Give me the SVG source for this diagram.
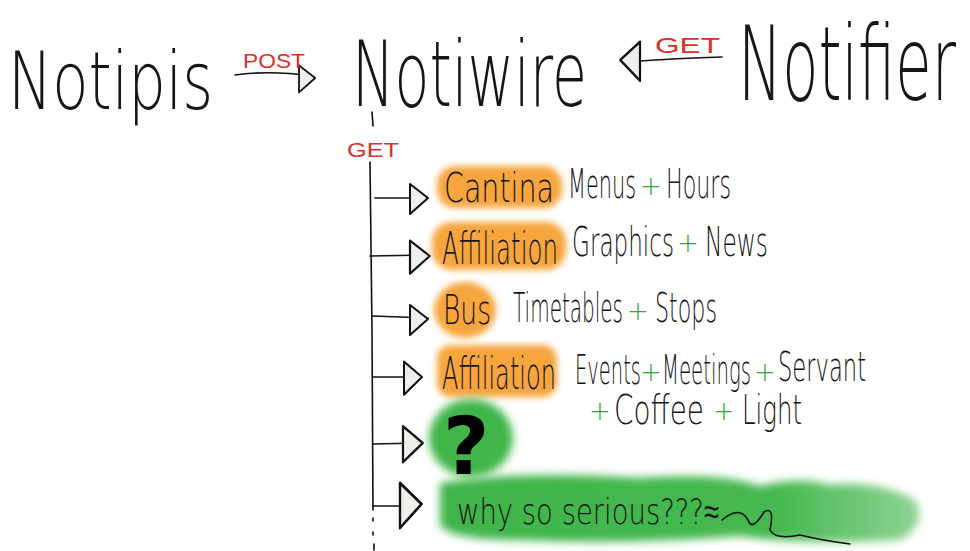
<svg xmlns="http://www.w3.org/2000/svg" width="970" height="551" viewBox="0 0 970 551">
<style>
.hw{font-family:"DejaVu Sans","Liberation Sans",sans-serif;font-weight:200;fill:#161616}
.big{font-size:80px}
.mid{font-size:40px}
.red{font-family:"Liberation Sans Narrow","Liberation Sans",sans-serif;fill:#d9302a;font-size:20px}
.plus{font-family:"DejaVu Sans",sans-serif;font-weight:200;fill:#3aa63a;font-size:26px;text-anchor:middle}
.ln{stroke:#111;stroke-width:1.6;fill:none;stroke-linecap:round}
.head{fill:#efeeea;stroke:#111;stroke-width:2;stroke-linejoin:round}
.or{fill:#f7a53c;filter:url(#soft)}
.gr{fill:#3fb54a;filter:url(#soft2)}
</style>
<defs>
<filter id="soft" x="-20%" y="-30%" width="140%" height="160%"><feGaussianBlur stdDeviation="3"/></filter>
<filter id="soft2" x="-20%" y="-30%" width="140%" height="160%"><feGaussianBlur stdDeviation="4"/></filter>
<linearGradient id="fade" x1="0" y1="0" x2="1" y2="0">
<stop offset="0" stop-color="#3fb54a"/><stop offset="0.7" stop-color="#45b84f"/><stop offset="1" stop-color="#8fd392"/>
</linearGradient>
<path id="ah" d="M0,-14 L18,0 L0,16 Z"/>
</defs>
<rect width="970" height="551" fill="#ffffff"/>

<g id="notipis">
<text class="hw big" x="8" y="109" textLength="205" lengthAdjust="spacingAndGlyphs">Notipis</text>
</g>
<g id="notiwire">
<text class="hw big" x="352" y="106" textLength="235" lengthAdjust="spacingAndGlyphs" style="font-size:90px">Notiwire</text>
</g>
<g id="notifier">
<text class="hw big" x="738" y="100" textLength="218" lengthAdjust="spacingAndGlyphs" style="font-size:104px">Notifier</text>
</g>

<g id="connectors">
<path class="ln" d="M235,75 Q270,70 312,76"/>
<use href="#ah" class="head" transform="translate(299,78) scale(0.9)"/>
<text class="red" x="243" y="68" textLength="62" lengthAdjust="spacingAndGlyphs">POST</text>

<path class="ln" d="M722,57 Q680,58 625,62"/>
<use href="#ah" class="head" transform="translate(640,60) scale(-1.1,1.3)"/>
<text class="red" x="655" y="53" textLength="65" lengthAdjust="spacingAndGlyphs" style="font-size:22px">GET</text>

<path class="ln" d="M372,112 L373,126"/>
<text class="red" x="347" y="157" textLength="52" lengthAdjust="spacingAndGlyphs" style="font-size:21px">GET</text>

<path class="ln" d="M370,162 L372,330 L373,510"/>
<path class="ln" d="M373,518 L373,521 M373,532 L373,535 M374,544 L374,550" stroke-width="2.2"/>

<path class="ln" d="M375,198 L425,198"/>
<use href="#ah" class="head" transform="translate(410,198) scale(1,1)"/>
<path class="ln" d="M370,256 L428,255"/>
<use href="#ah" class="head" transform="translate(410,256) scale(1.1,1.1)"/>
<path class="ln" d="M372,316 L428,318"/>
<use href="#ah" class="head" transform="translate(410,319) scale(1,1)"/>
<path class="ln" d="M373,377 L420,377"/>
<use href="#ah" class="head" transform="translate(404,377) scale(1,1.1)"/>
<path class="ln" d="M373,444 L420,443"/>
<use href="#ah" class="head" transform="translate(403,443) scale(1.1,1.2)"/>
<path class="ln" d="M373,506 L420,506"/>
<use href="#ah" class="head" transform="translate(400,504) scale(1.2,1.5)"/>
</g>

<g id="cantina">
<rect class="or" x="437" y="166" width="125" height="42" rx="18"/>
<text class="hw mid" x="444" y="202" textLength="110" lengthAdjust="spacingAndGlyphs">Cantina</text>
<text class="hw mid" x="568" y="198" textLength="68" lengthAdjust="spacingAndGlyphs">Menus</text>
<text class="plus" x="651" y="195">+</text>
<text class="hw mid" x="666" y="198" textLength="65" lengthAdjust="spacingAndGlyphs">Hours</text>
</g>
<g id="affiliation1">
<rect class="or" x="432" y="222" width="134" height="48" rx="20"/>
<text class="hw mid" x="442" y="264" textLength="116" lengthAdjust="spacingAndGlyphs" style="font-size:44px">Affiliation</text>
<text class="hw mid" x="572" y="256" textLength="102" lengthAdjust="spacingAndGlyphs">Graphics</text>
<text class="plus" x="688" y="252">+</text>
<text class="hw mid" x="705" y="256" textLength="63" lengthAdjust="spacingAndGlyphs">News</text>
</g>
<g id="bus">
<ellipse class="or" cx="465" cy="310" rx="31" ry="28"/>
<text class="hw mid" x="443" y="324" textLength="48" lengthAdjust="spacingAndGlyphs">Bus</text>
<text class="hw mid" x="513" y="322" textLength="110" lengthAdjust="spacingAndGlyphs">Timetables</text>
<text class="plus" x="638" y="320">+</text>
<text class="hw mid" x="655" y="322" textLength="62" lengthAdjust="spacingAndGlyphs">Stops</text>
</g>
<g id="affiliation2">
<rect class="or" x="437" y="345" width="120" height="52" rx="14"/>
<text class="hw mid" x="442" y="389" textLength="114" lengthAdjust="spacingAndGlyphs" style="font-size:44px">Affiliation</text>
<text class="hw mid" x="575" y="384" textLength="66" lengthAdjust="spacingAndGlyphs">Events</text>
<text class="plus" x="651" y="381">+</text>
<text class="hw mid" x="662" y="384" textLength="89" lengthAdjust="spacingAndGlyphs">Meetings</text>
<text class="plus" x="765" y="381">+</text>
<text class="hw mid" x="778" y="381" textLength="88" lengthAdjust="spacingAndGlyphs">Servant</text>
<text class="plus" x="600" y="420">+</text>
<text class="hw mid" x="614" y="424" textLength="90" lengthAdjust="spacingAndGlyphs">Coffee</text>
<text class="plus" x="724" y="420">+</text>
<text class="hw mid" x="742" y="424" textLength="60" lengthAdjust="spacingAndGlyphs">Light</text>
</g>
<g id="question">
<ellipse class="gr" cx="471" cy="438" rx="42" ry="39"/>
<text x="443" y="474" style="font-family:'DejaVu Sans',sans-serif;font-weight:bold;font-size:80px;fill:#000">?</text>
</g>
<g id="serious">
<path fill="url(#fade)" filter="url(#soft2)" d="M440,483 Q520,470 640,478 Q720,472 760,486 Q800,476 830,485 Q880,480 915,500 Q928,525 900,540 Q800,545 740,536 Q620,545 520,540 Q450,540 440,525 Z"/>
<text class="hw" x="457" y="524" textLength="262" lengthAdjust="spacingAndGlyphs" style="font-size:36px">why so serious???≈</text>
<path class="ln" d="M722,520 Q740,505 748,520 Q752,532 764,512 Q775,505 770,530 Q775,540 800,535 Q820,540 850,544" stroke-width="1.4"/>
</g>
</svg>
